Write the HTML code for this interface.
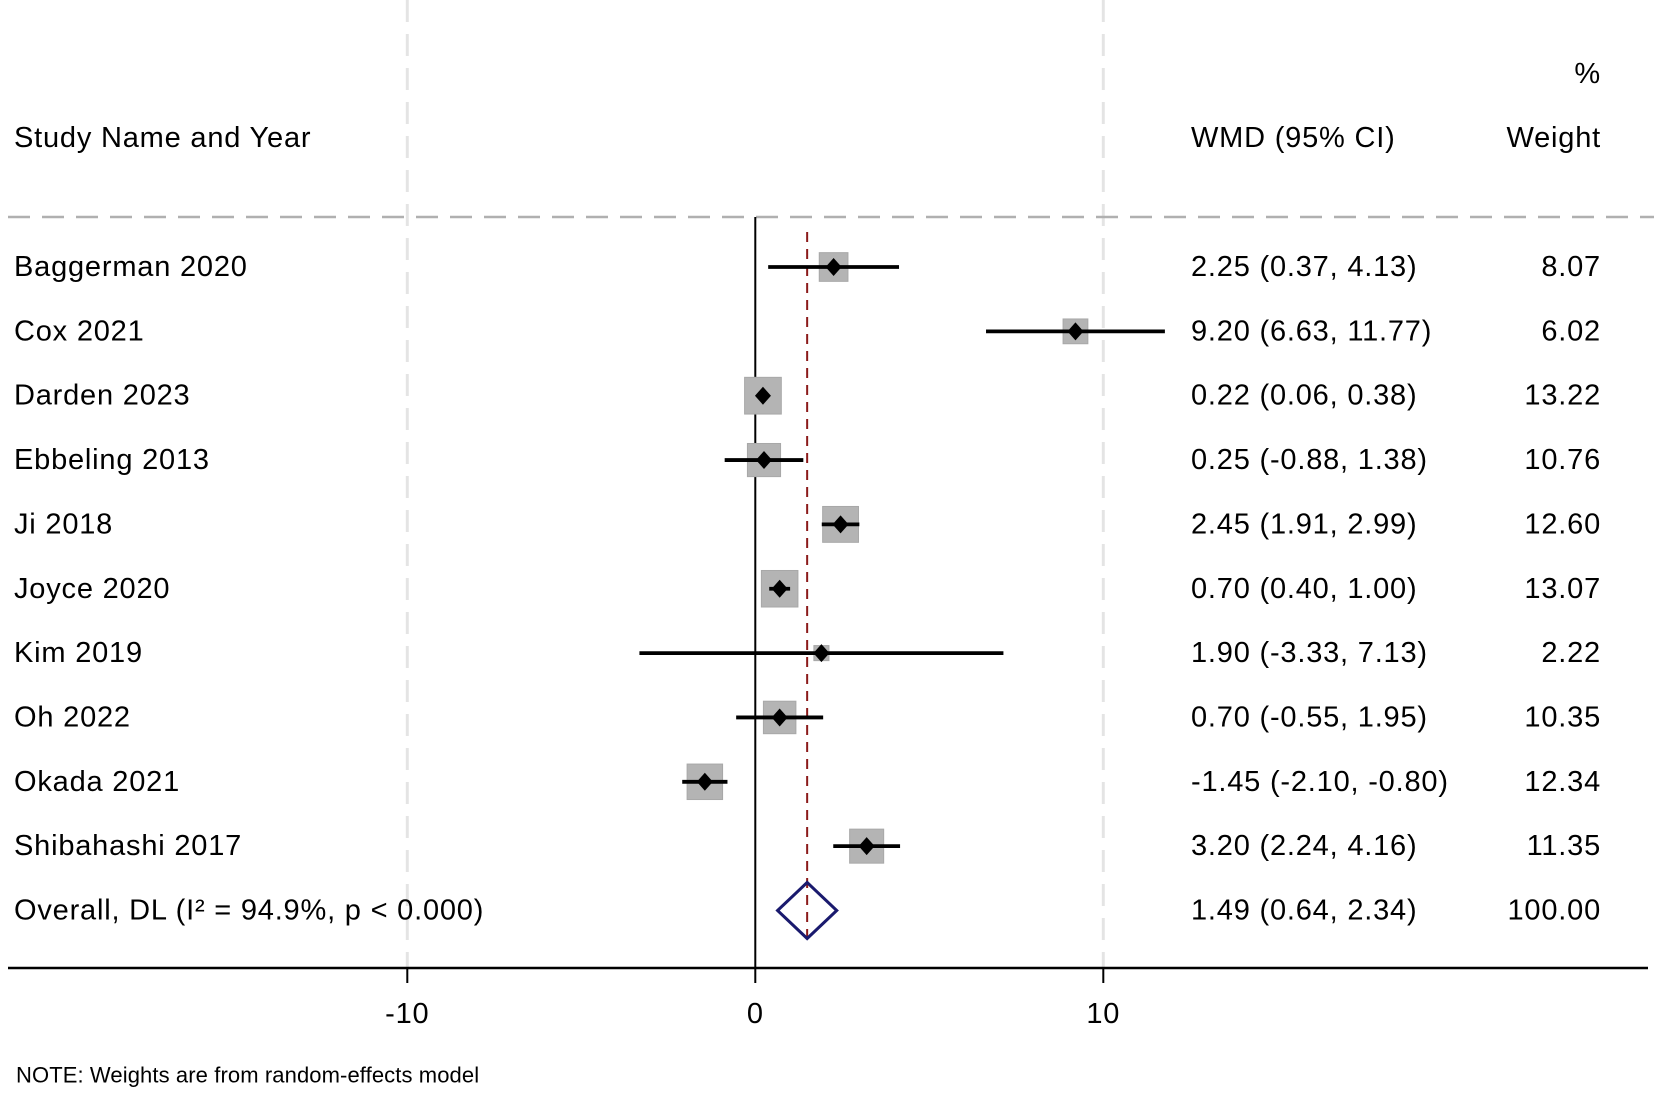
<!DOCTYPE html>
<html><head><meta charset="utf-8"><style>
body{margin:0;background:#fff;}
svg text{font-family:"Liberation Sans",Arial,sans-serif;fill:#000;letter-spacing:0.8px;}
</style></head><body>
<svg id="chart" width="1654" height="1095" viewBox="0 0 1654 1095" xmlns="http://www.w3.org/2000/svg"></svg>
<script>
const studies=["Baggerman 2020","Cox 2021","Darden 2023","Ebbeling 2013","Ji 2018","Joyce 2020","Kim 2019","Oh 2022","Okada 2021","Shibahashi 2017"];
const estimates=[2.25,9.20,0.22,0.25,2.45,0.70,1.90,0.70,-1.45,3.20];
const lowerCI=[0.37,6.63,0.06,-0.88,1.91,0.40,-3.33,-0.55,-2.10,2.24];
const upperCI=[4.13,11.77,0.38,1.38,2.99,1.00,7.13,1.95,-0.80,4.16];
const weights=[8.07,6.02,13.22,10.76,12.60,13.07,2.22,10.35,12.34,11.35];
const overall=[1.49,0.64,2.34];
const overallLabel="Overall, DL (I\u00B2 = 94.9%, p < 0.000)";
const xTicks=[-10,0,10];
const NS="http://www.w3.org/2000/svg";
const svg=document.getElementById('chart');
const X=v=>755.3+v*34.8;
const rowY=i=>267+i*64.35;
function mk(tag,attrs,parent){const e=document.createElementNS(NS,tag);for(const k in attrs)e.setAttribute(k,attrs[k]);(parent||svg).appendChild(e);return e;}
function txt(s,x,y,size,anchor){const t=mk('text',{x:x,y:y,'font-size':size,'text-anchor':anchor||'start','dominant-baseline':'central'});t.textContent=s;return t;}
xTicks.forEach(v=>{if(v!==0){const g=mk('line',{x1:X(v),x2:X(v),y1:0,y2:968,stroke:'#e4e4e4','stroke-width':3,'stroke-dasharray':'22 12'});

}});
let t=txt('%',1601,74,29,'end');
t=txt('Study Name and Year',14,138,29);
t=txt('WMD (95% CI)',1191,138,29);
t=txt('Weight',1601,138,29,'end');
let l=mk('line',{x1:8,x2:1654,y1:217,y2:217,stroke:'#b0b0b0','stroke-width':2.5,'stroke-dasharray':'22 12'});


l=mk('line',{x1:X(0),x2:X(0),y1:217,y2:968,stroke:'#000','stroke-width':2});


l=mk('line',{x1:X(overall[0]),x2:X(overall[0]),y1:232,y2:940,stroke:'#8b1a1a','stroke-width':2,'stroke-dasharray':'10 7'});


const f=v=>v.toFixed(2);
studies.forEach((s,i)=>{const y=rowY(i);
 const side=10.1*Math.sqrt(weights[i]);
 const b=mk('rect',{x:X(estimates[i])-side/2,y:y-side/2,width:side,height:side,fill:'#b4b4b4',stroke:'#a8a8a8','stroke-width':1});
 
 
 const c=mk('line',{x1:X(lowerCI[i]),x2:X(upperCI[i]),y1:y,y2:y,stroke:'#000','stroke-width':3.8});
 
 
 const cx=X(estimates[i]);
 const d=mk('polygon',{points:`${cx},${y-9} ${cx+8},${y} ${cx},${y+9} ${cx-8},${y}`,fill:'#000'});
 
 
 let a=txt(s,14,y,29);
 a=txt(`${f(estimates[i])} (${f(lowerCI[i])}, ${f(upperCI[i])})`,1191,y,29);
 a=txt(f(weights[i]),1601,y,29,'end');
});
const oy=rowY(studies.length);
const dm=mk('polygon',{points:`${X(overall[1])},${oy} ${X(overall[0])},${oy-28} ${X(overall[2])},${oy} ${X(overall[0])},${oy+28}`,fill:'none',stroke:'#1a1a6e','stroke-width':3});


t=txt(overallLabel,14,oy,29);
t=txt(`${f(overall[0])} (${f(overall[1])}, ${f(overall[2])})`,1191,oy,29);
t=txt('100.00',1601,oy,29,'end');
l=mk('line',{x1:8,x2:1648,y1:968,y2:968,stroke:'#000','stroke-width':2.5});


xTicks.forEach(v=>{const k=mk('line',{x1:X(v),x2:X(v),y1:968,y2:983,stroke:'#000','stroke-width':2});


const tl=txt(String(v),X(v),1014,29,'middle');

});
t=txt('NOTE: Weights are from random-effects model',16,1075,22);
t.style.letterSpacing='0.1px';
</script>
</body></html>
